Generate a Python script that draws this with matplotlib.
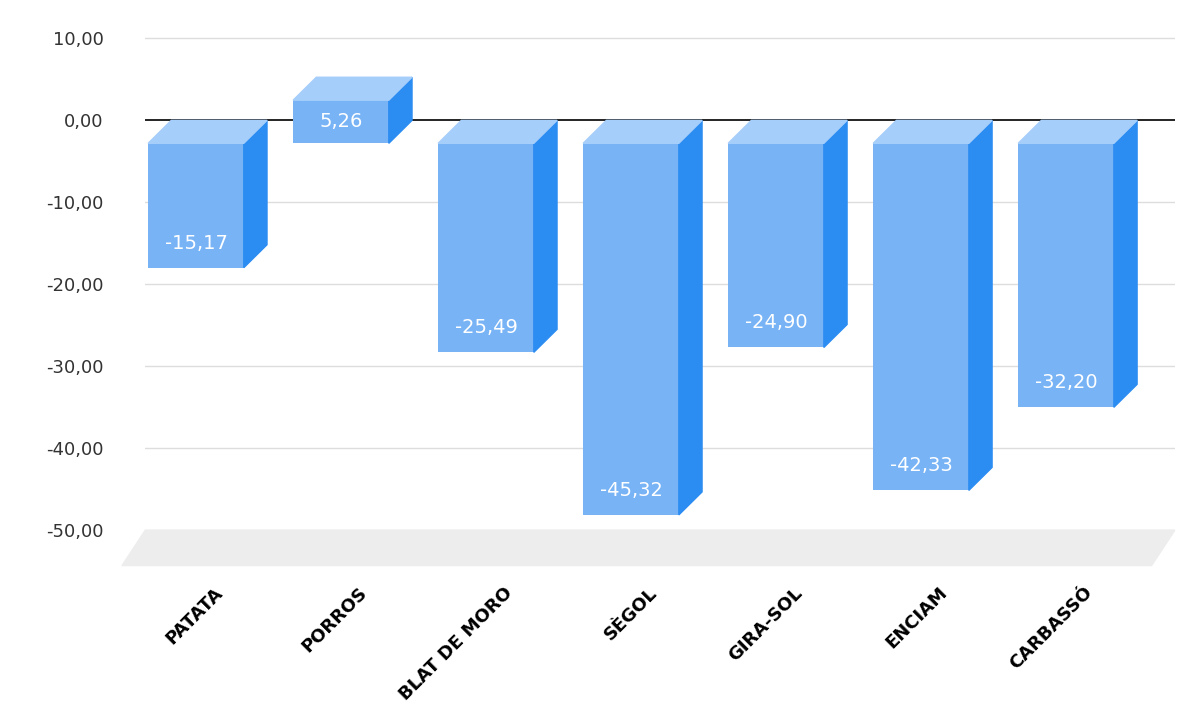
import matplotlib
matplotlib.use("Agg")
import matplotlib.pyplot as plt
from matplotlib.patches import Polygon

categories = ["PATATA", "PORROS", "BLAT DE MORO", "SÈGOL", "GIRA-SOL", "ENCIAM", "CARBASSÓ"]
values = [-15.17, 5.26, -25.49, -45.32, -24.90, -42.33, -32.20]
yticks = [10, 0, -10, -20, -30, -40, -50]

front_c, side_c, top_c = "#78b3f6", "#2b8cf2", "#a6cefa"
fig = plt.figure(figsize=(12, 7.09), dpi=100)
ax = fig.add_axes([0.121, 0.2, 0.858, 0.769])
xmin, xmax = -0.35, 6.75
ax.set_xlim(xmin, xmax)
ax.set_ylim(-54.5, 12)
for s in ax.spines.values():
    s.set_visible(False)
ax.set_yticks(yticks)
ax.set_yticklabels([f"{t:.2f}".replace(".", ",") for t in yticks], fontsize=13, color="#333333")
ax.tick_params(length=0, pad=30)
ax.set_xticks([])
for t in yticks:
    if t != 0:
        ax.axhline(t, color="#dddddd", lw=1, zorder=0)

dx, dy, w = 0.16, 2.8, 0.66
# floor
ax.add_patch(Polygon([(xmin, -50), (xmax, -50), (xmax - dx, -50 - 4.3), (xmin - dx, -50 - 4.3)],
                     closed=True, color="#ededed", zorder=0, clip_on=False))
ax.axhline(0, color="black", lw=1.2, zorder=1)

for i, v in enumerate(values):
    top, bot = max(v, 0), min(v, 0)
    l, r = i - w / 2, i + w / 2
    ax.bar(i, top - bot, bottom=bot - dy, width=w, color=front_c, zorder=3)
    ax.add_patch(Polygon([(r, top - dy), (r + dx, top), (r + dx, bot), (r, bot - dy)], color=side_c, zorder=3))
    ax.add_patch(Polygon([(l, top - dy), (l + dx, top), (r + dx, top), (r, top - dy)], color=top_c, zorder=3))
    lbl = f"{v:.2f}".replace(".", ",")
    ly = (top + bot) / 2 - dy if v > 0 else bot - dy + 3.0
    ax.text(i, ly, lbl, color="white", fontsize=14, ha="center", va="center", zorder=4)
    ax.text(i + 0.12, -56.5, categories[i], rotation=45, ha="right", va="top",
            rotation_mode="anchor", fontsize=13, fontweight="bold", clip_on=False)

fig.savefig("out.png", dpi=100)
